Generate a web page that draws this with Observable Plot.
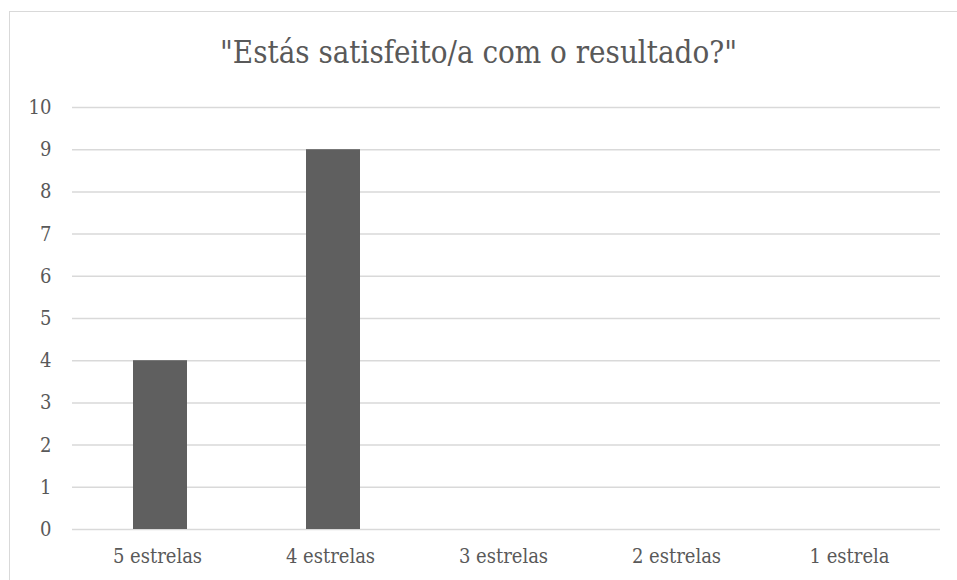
<!DOCTYPE html>
<html>
<head>
<meta charset="utf-8">
<script src="https://cdn.jsdelivr.net/npm/d3@7"></script>
<script src="https://cdn.jsdelivr.net/npm/@observablehq/plot@0.6"></script>
<style>
  html, body { margin: 0; padding: 0; background: #fff; }
  #wrap { position: relative; width: 957px; height: 580px; overflow: hidden; }
  #frame { position: absolute; left: 9px; top: 11px; width: 1000px; height: 700px;
           border: 1.5px solid #d9d9d9; box-sizing: border-box; }
  #title { position: absolute; left: 0; width: 957px; top: 30px; text-align: center;
           font-family: "DejaVu Serif Condensed", "DejaVu Serif", serif;
           font-size: 31px; color: #595959; line-height: 44px; }
  #chart { position: absolute; left: 0; top: 0; }
</style>
</head>
<body>
<div id="wrap">
  <div id="frame"></div>
  <div id="title">"Estás satisfeito/a com o resultado?"</div>
  <div id="chart"></div>
</div>
<script>
// Answer categories and response counts
const categories = ["5 estrelas", "4 estrelas", "3 estrelas", "2 estrelas", "1 estrela"];
const counts = [4, 9, 0, 0, 0];
const yTicks = [0, 1, 2, 3, 4, 5, 6, 7, 8, 9, 10];

const data = categories.map((c, i) => ({category: c, count: counts[i]}));

const textColor = "#595959";
const gridColor = "#d9d9d9";
const barColor = "#5f5f5f";
const serif = "'DejaVu Serif Condensed', 'DejaVu Serif', serif";

const chart = Plot.plot({
  width: 957,
  height: 580,
  marginLeft: 72,
  marginRight: 17,
  marginTop: 107,
  marginBottom: 51,
  style: {
    fontFamily: serif,
    fontSize: "20px",
    color: textColor,
    background: "transparent",
    overflow: "visible"
  },
  x: {domain: categories, paddingInner: 0.69, paddingOuter: 0.345, align: 0.5, label: null},
  y: {domain: [0, 10], label: null},
  marks: [
    Plot.ruleY(yTicks, {stroke: gridColor, strokeWidth: 1.5}),
    Plot.barY(data, {x: "category", y: "count", fill: barColor}),
    Plot.axisY(yTicks, {tickSize: 0, tickPadding: 21, label: null, fill: textColor,
                        fontSize: 20, fontFamily: serif}),
    Plot.axisX({tickSize: 0, tickPadding: 19, dx: -3, label: null, fill: textColor,
                fontSize: 20, fontFamily: serif})
  ]
});

document.getElementById("chart").appendChild(chart);
</script>
</body>
</html>
